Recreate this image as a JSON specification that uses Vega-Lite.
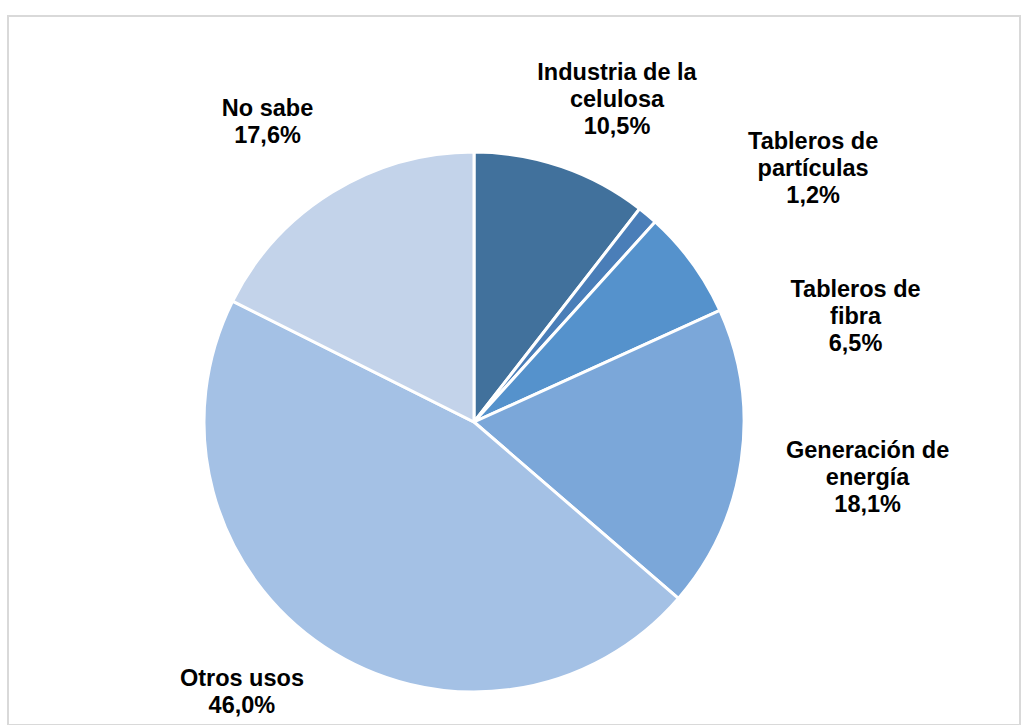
{
  "$schema": "https://vega.github.io/schema/vega-lite/v6.json",
  "autosize": {"type": "none"},
  "padding": {"left": 8, "top": 16, "right": 1, "bottom": 0},
  "width": 1012,
  "height": 709,
  "background": "white",
  "config": {"view": {"stroke": "#d9d9d9", "strokeWidth": 2}},
  "data": {
    "values": [
      {"categoria": "Industria de la celulosa", "porcentaje": 10.5, "orden": 1, "etiqueta": "Industria de la\ncelulosa\n10,5%"},
      {"categoria": "Tableros de partículas", "porcentaje": 1.2, "orden": 2, "etiqueta": "Tableros de\npartículas\n1,2%"},
      {"categoria": "Tableros de fibra", "porcentaje": 6.5, "orden": 3, "etiqueta": "Tableros de\nfibra\n6,5%"},
      {"categoria": "Generación de energía", "porcentaje": 18.1, "orden": 4, "etiqueta": "Generación de\nenergía\n18,1%"},
      {"categoria": "Otros usos", "porcentaje": 46.0, "orden": 5, "etiqueta": "Otros usos\n46,0%"},
      {"categoria": "No sabe", "porcentaje": 17.6, "orden": 6, "etiqueta": "No sabe\n17,6%"}
    ]
  },
  "encoding": {
    "x": {"datum": 0, "type": "quantitative", "scale": {"domain": [-466, 546], "nice": false, "zero": false}, "axis": null},
    "y": {"datum": 0, "type": "quantitative", "scale": {"domain": [-303, 406], "nice": false, "zero": false}, "axis": null},
    "theta": {"field": "porcentaje", "type": "quantitative", "stack": true},
    "order": {"field": "orden", "type": "quantitative"}
  },
  "layer": [
    {
      "mark": {"type": "arc", "radius": 270, "stroke": "white", "strokeWidth": 3},
      "encoding": {
        "color": {
          "field": "categoria", "type": "nominal", "legend": null,
          "scale": {
            "domain": ["Industria de la celulosa", "Tableros de partículas", "Tableros de fibra", "Generación de energía", "Otros usos", "No sabe"],
            "range": ["#41719c", "#4a7eb8", "#5592cc", "#7ba7d9", "#a4c1e5", "#c3d3ea"]
          }
        }
      }
    },
    {
      "mark": {"type": "text", "radius": 330, "dx": 36, "dy": -37, "font": "Liberation Sans", "fontWeight": "bold", "fontSize": 23.5, "lineBreak": "\n", "lineHeight": 27, "align": "center", "baseline": "middle", "color": "black"},
      "encoding": {"text": {"condition": {"test": "datum.orden === 1", "field": "etiqueta"}, "value": ""}}
    },
    {
      "mark": {"type": "text", "radius": 330, "dx": 127, "dy": -27, "font": "Liberation Sans", "fontWeight": "bold", "fontSize": 23.5, "lineBreak": "\n", "lineHeight": 27, "align": "center", "baseline": "middle", "color": "black"},
      "encoding": {"text": {"condition": {"test": "datum.orden === 2", "field": "etiqueta"}, "value": ""}}
    },
    {
      "mark": {"type": "text", "radius": 330, "dx": 115, "dy": 63, "font": "Liberation Sans", "fontWeight": "bold", "fontSize": 23.5, "lineBreak": "\n", "lineHeight": 27, "align": "center", "baseline": "middle", "color": "black"},
      "encoding": {"text": {"condition": {"test": "datum.orden === 3", "field": "etiqueta"}, "value": ""}}
    },
    {
      "mark": {"type": "text", "radius": 330, "dx": 67, "dy": -18, "font": "Liberation Sans", "fontWeight": "bold", "fontSize": 23.5, "lineBreak": "\n", "lineHeight": 27, "align": "center", "baseline": "middle", "color": "black"},
      "encoding": {"text": {"condition": {"test": "datum.orden === 4", "field": "etiqueta"}, "value": ""}}
    },
    {
      "mark": {"type": "text", "radius": 330, "dx": -49, "dy": -18, "font": "Liberation Sans", "fontWeight": "bold", "fontSize": 23.5, "lineBreak": "\n", "lineHeight": 27, "align": "center", "baseline": "middle", "color": "black"},
      "encoding": {"text": {"condition": {"test": "datum.orden === 5", "field": "etiqueta"}, "value": ""}}
    },
    {
      "mark": {"type": "text", "radius": 330, "dx": -33, "dy": -32, "font": "Liberation Sans", "fontWeight": "bold", "fontSize": 23.5, "lineBreak": "\n", "lineHeight": 27, "align": "center", "baseline": "middle", "color": "black"},
      "encoding": {"text": {"condition": {"test": "datum.orden === 6", "field": "etiqueta"}, "value": ""}}
    }
  ]
}
